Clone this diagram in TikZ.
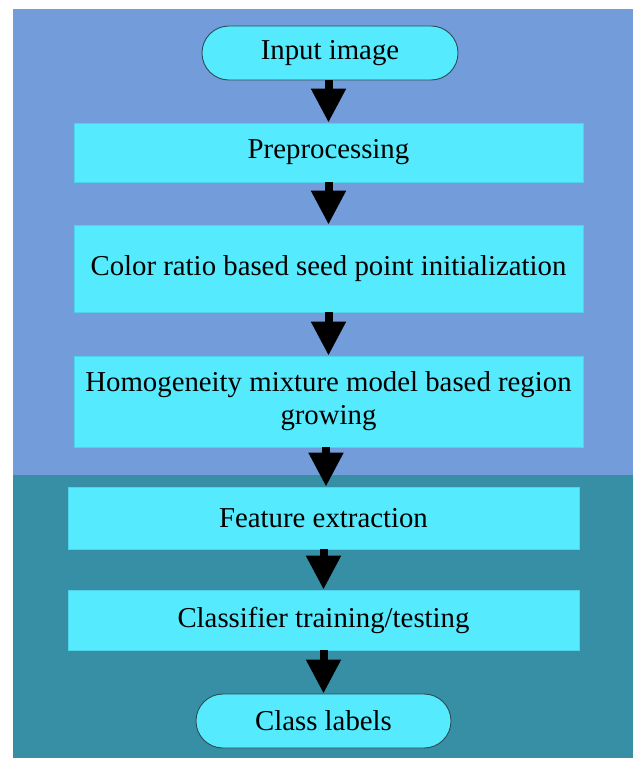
\documentclass[tikz,border=0pt]{standalone}
\usepackage{fontspec}
\setmainfont{Liberation Serif}
\usetikzlibrary{arrows.meta}

\definecolor{bgblue}{HTML}{729DDA}
\definecolor{bgteal}{HTML}{378FA6}
\definecolor{boxcyan}{HTML}{55EAFD}
\definecolor{boxline}{HTML}{4ED3EA}
\definecolor{endline}{HTML}{2E4B55}

\tikzset{
	stepbox/.style={rectangle, fill=boxcyan, draw=boxline, line width=0.8pt, inner sep=0pt, align=center, font=\fontsize{28.8}{33}\selectfont},
	endbox/.style={rectangle, rounded corners=26.9pt, fill=boxcyan, draw=endline, line width=0.9pt, minimum width=256pt, minimum height=54pt, inner sep=0pt, font=\fontsize{28.8}{33}\selectfont},
	flow/.style={line width=8pt, -{Triangle[width=33pt,length=34pt]}},
}

\begin{document}
\begin{tikzpicture}[x=1pt,y=-1pt]
	\useasboundingbox (0,0) rectangle (633,758);
	% background bands
	\fill[bgblue] (13,9) rectangle (633,475);
	\fill[bgteal] (13,475) rectangle (633,758);

	\node[endbox] (input) at (330,53) {Input image};
	\node[stepbox, minimum width=509pt, minimum height=59pt] (prep) at (328.5,152.5) {Preprocessing};
	\node[stepbox, minimum width=509pt, minimum height=87pt] (seed) at (328.5,268.5) {Color ratio based seed point initialization};
	\node[stepbox, minimum width=509pt, minimum height=91pt] (grow) at (328.5,401.5) {Homogeneity mixture model based region\\growing};
	\node[stepbox, minimum width=511pt, minimum height=62pt] (feat) at (323.5,518) {Feature extraction};
	\node[stepbox, minimum width=511pt, minimum height=60pt] (clf) at (323.5,620) {Classifier training/testing};
	\node[endbox, minimum width=255pt] (labels) at (323.5,721) {Class labels};

	\draw[flow] (prep.north |- input.south) -- (prep.north);
	\draw[flow] (prep.south) -- (seed.north);
	\draw[flow] (seed.south) -- (grow.north);
	\draw[flow] ([xshift=-2.5pt]grow.south) -- ([xshift=2.5pt]feat.north);
	\draw[flow] (feat.south) -- (clf.north);
	\draw[flow] (clf.south) -- (labels.north);
\end{tikzpicture}
\end{document}
